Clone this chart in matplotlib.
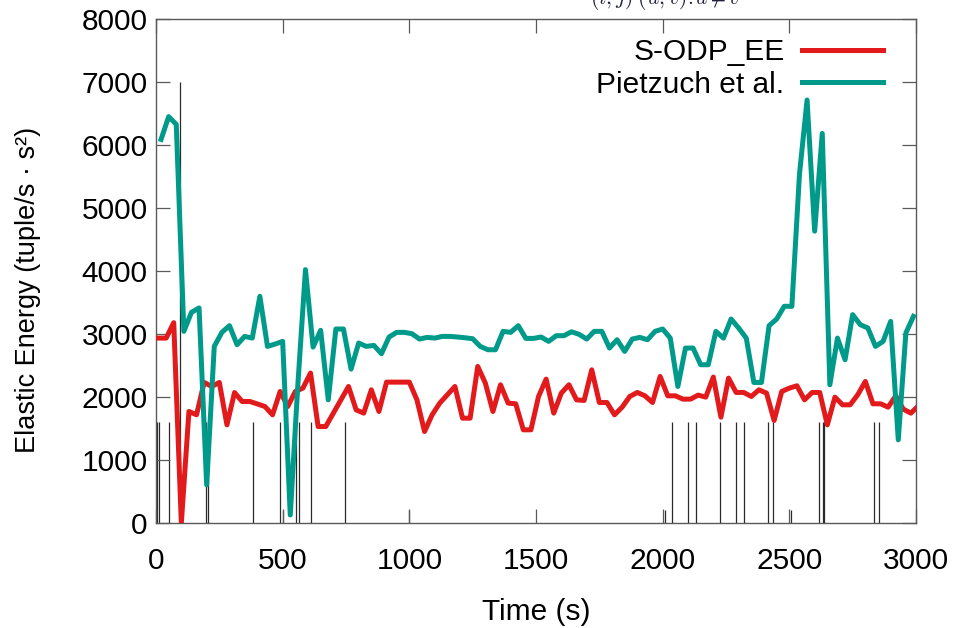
import matplotlib
matplotlib.use('Agg')
import matplotlib.pyplot as plt

plt.rcParams['font.family'] = ['Liberation Sans', 'DejaVu Sans']
plt.rcParams['mathtext.fontset'] = 'cm'

# ---------------- data ----------------
sodp_time = [10, 40, 70, 100, 130, 160, 190, 220, 250, 280, 310, 340, 370, 400, 430, 460,
             490, 520, 550, 580, 610, 640, 670, 700, 730, 760, 790, 820, 850, 880, 910,
             940, 970, 1000, 1030, 1060, 1090, 1120, 1150, 1180, 1210, 1240, 1270, 1300,
             1330, 1360, 1390, 1420, 1450, 1480, 1510, 1540, 1570, 1600, 1630, 1660, 1690,
             1720, 1750, 1780, 1810, 1840, 1870, 1900, 1930, 1960, 1990, 2020, 2050, 2080,
             2110, 2140, 2170, 2200, 2230, 2260, 2290, 2320, 2350, 2380, 2410, 2440, 2470,
             2500, 2530, 2560, 2590, 2620, 2650, 2680, 2710, 2740, 2770, 2800, 2830, 2860,
             2890, 2920, 2950, 2980, 3010]
sodp_energy = [2935, 2935, 3180, 0, 1770, 1717, 2231, 2167, 2231, 1558, 2071, 1929, 1929,
               1890, 1849, 1717, 2088, 1849, 2088, 2141, 2380, 1531, 1531, 1743, 1955, 2167,
               1796, 1744, 2114, 1770, 2236, 2236, 2236, 2236, 1955, 1452, 1717, 1903, 2035,
               2167, 1664, 1664, 2485, 2221, 1770, 2194, 1903, 1892, 1479, 1479, 2008, 2284,
               1744, 2062, 2194, 1955, 1945, 2432, 1913, 1913, 1717, 1839, 2008, 2072, 2019,
               1913, 2326, 2019, 2019, 1966, 1966, 2030, 1998, 2316, 1680, 2300, 2072, 2072,
               2008, 2114, 2062, 1627, 2088, 2141, 2178, 1955, 2072, 2072, 1558, 1998, 1876,
               1876, 2035, 2247, 1892, 1892, 1839, 2019, 1807, 1744, 1862]

pietzuch_time = [20, 50, 80, 110, 140, 170, 200, 230, 260, 290, 320, 350, 380, 410, 440,
                 470, 500, 530, 560, 590, 620, 650, 680, 710, 740, 770, 800, 830, 860, 890,
                 920, 950, 980, 1010, 1040, 1070, 1100, 1130, 1160, 1190, 1220, 1250, 1280,
                 1310, 1340, 1370, 1400, 1430, 1460, 1490, 1520, 1550, 1580, 1610, 1640,
                 1670, 1700, 1730, 1760, 1790, 1820, 1850, 1880, 1910, 1940, 1970, 2000,
                 2030, 2060, 2090, 2120, 2150, 2180, 2210, 2240, 2270, 2300, 2330, 2360,
                 2390, 2420, 2450, 2480, 2510, 2540, 2570, 2600, 2630, 2660, 2690, 2720,
                 2750, 2780, 2810, 2840, 2870, 2900, 2930, 2960, 2990]
pietzuch_energy = [6089, 6450, 6327, 3042, 3344, 3413, 604, 2803, 3026, 3132, 2830, 2962,
                   2935, 3598, 2803, 2840, 2883, 127, 2200, 4022, 2793, 3058, 1955, 3079,
                   3079, 2443, 2857, 2803, 2819, 2687, 2952, 3026, 3026, 3005, 2920, 2946,
                   2935, 2962, 2962, 2952, 2940, 2925, 2803, 2750, 2750, 3042, 3026, 3132,
                   2930, 2930, 2952, 2883, 2973, 2973, 3035, 2995, 2920, 3042, 3042, 2777,
                   2909, 2724, 2920, 2946, 2909, 3042, 3079, 2935, 2167, 2777, 2777, 2512,
                   2512, 3042, 2935, 3238, 3095, 2935, 2231, 2231, 3132, 3238, 3440, 3439,
                   5533, 6714, 4632, 6184, 2194, 2935, 2591, 3307, 3148, 3095, 2803, 2883,
                   3200, 1320, 3016, 3280]

event_time = [0, 5, 12, 50, 95, 197, 205, 381, 488, 500, 551, 563, 611, 745, 1000,
              2008, 2035, 2101, 2130, 2225, 2289, 2322, 2414, 2434, 2506, 2617, 2634,
              2638, 2833, 2854]
event_height = [1600, 1600, 1600, 1600, 7000, 1600, 1600, 1600, 1600, 200, 1600, 1600,
                1600, 1600, 200, 200, 1600, 1600, 1600, 1600, 1600, 1600, 1600, 1600, 200,
                1600, 1600, 1600, 1600, 1600]

x_ticks = [0, 500, 1000, 1500, 2000, 2500, 3000]
y_ticks = [0, 1000, 2000, 3000, 4000, 5000, 6000, 7000, 8000]

RED = '#e31a1c'
TEAL = '#009a8a'
FRAME = '#5a5a5a'
FS = 21.5

# ---------------- figure ----------------
fig = plt.figure(figsize=(9.57, 6.28), dpi=100)
ax = fig.add_axes([156 / 957, 1 - 523 / 628, 760 / 957, (523 - 19) / 628])

ax.vlines(event_time, 0, event_height, colors='#2a2a2a', linewidth=0.9, zorder=1)
ax.plot(sodp_time, sodp_energy, color=RED, lw=3.6, label='S-ODP_EE', zorder=3)
ax.plot(pietzuch_time, pietzuch_energy, color=TEAL, lw=3.6, label='Pietzuch et al.', zorder=3)

ax.set_xlim(0, 3000)
ax.set_ylim(0, 8000)
ax.set_xticks(x_ticks)
ax.set_yticks(y_ticks)
ax.tick_params(direction='in', length=10, width=0.9, color=FRAME, top=True, right=True,
               labelsize=FS, labelcolor='black')
ax.tick_params(axis='x', pad=17)
ax.tick_params(axis='y', pad=6)
for s in ax.spines.values():
    s.set_color(FRAME)
    s.set_linewidth(1.0)

ax.set_xlabel('Time (s)', fontsize=FS, labelpad=17)
fig.text(28 / 957, 1 - 290 / 628, 'Elastic Energy (tuple/s · s²)', rotation=90,
         ha='center', va='center', fontsize=19.5)

# clipped formula at the top edge (remainder of a title)
fig.text(590 / 957, 1 - 4 / 628, r'$(i,j)\;(u,v)\!:\!u\neq v$', fontsize=15.5,
         color='#20203a', ha='left', va='baseline')

leg = ax.legend(loc='upper right', bbox_to_anchor=(0.9566, 0.962), frameon=False,
                markerfirst=False, fontsize=FS, handlelength=2.7, handletextpad=0.6,
                labelspacing=0.15, borderpad=0, borderaxespad=0)

fig.savefig('out.png', dpi=100)
